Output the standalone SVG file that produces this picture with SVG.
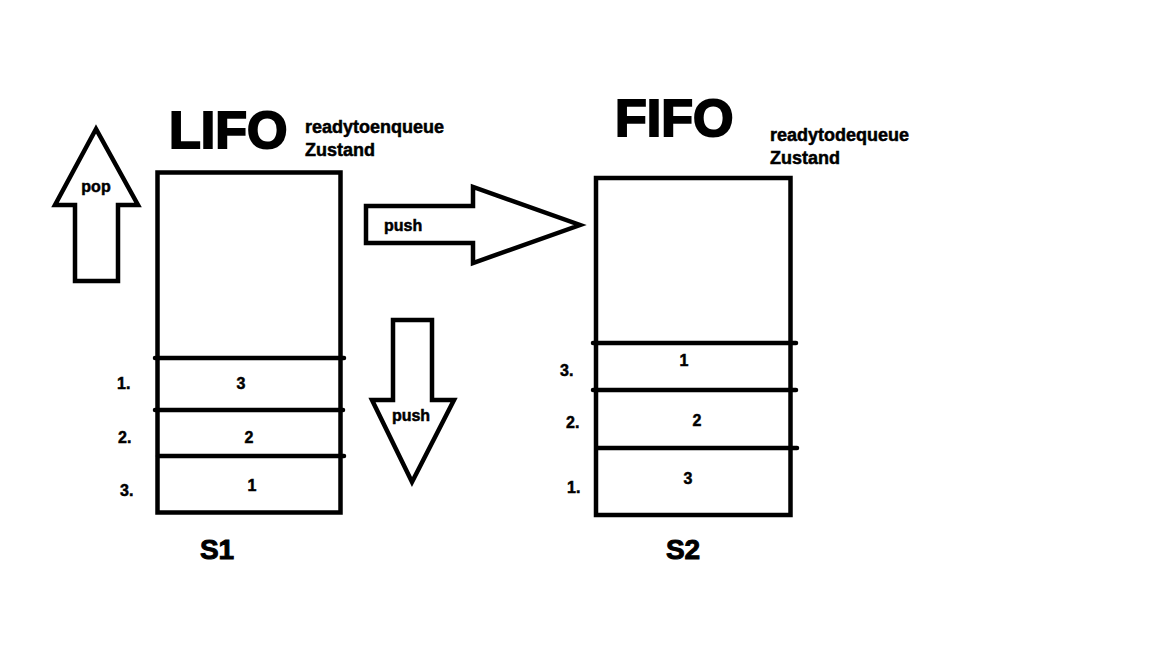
<svg xmlns="http://www.w3.org/2000/svg" width="1152" height="648" viewBox="0 0 1152 648">
<style>
.s{fill:none;stroke:#000;stroke-width:4.5;stroke-linejoin:miter}
.l{stroke:#000;stroke-width:4.5;stroke-linecap:round}
.t{font-family:"Liberation Sans",Arial,sans-serif;font-weight:bold;fill:#000;stroke:#000;stroke-width:0.5}
.big{font-size:52px;stroke-width:2}
.mid{font-size:18px}
.sm{font-size:16px}
.lbl{font-size:28px;stroke-width:1}
</style>
<rect width="1152" height="648" fill="#fff"/>
<g id="s1">
<rect class="s" x="157.5" y="172.5" width="183" height="340"/>
<line class="l" x1="155" y1="358" x2="344" y2="358"/>
<line class="l" x1="155" y1="410" x2="343" y2="410"/>
<line class="l" x1="158" y1="456" x2="344" y2="456"/>
<text class="t sm" x="117" y="389">1.</text>
<text class="t sm" x="241" y="389" text-anchor="middle">3</text>
<text class="t sm" x="118" y="443">2.</text>
<text class="t sm" x="249" y="443" text-anchor="middle">2</text>
<text class="t sm" x="120" y="496">3.</text>
<text class="t sm" x="252" y="491" text-anchor="middle">1</text>
<text class="t lbl" x="217" y="559" text-anchor="middle">S1</text>
</g>
<g id="lifo">
<text class="t big" x="169" y="148">LIFO</text>
<text class="t mid" x="305" y="133">readytoenqueue</text>
<text class="t mid" x="305" y="156">Zustand</text>
</g>
<g id="s2">
<rect class="s" x="596" y="178" width="194.5" height="337"/>
<line class="l" x1="593" y1="343" x2="796" y2="343"/>
<line class="l" x1="593" y1="390" x2="796" y2="390"/>
<line class="l" x1="598" y1="448" x2="797" y2="448"/>
<text class="t sm" x="560" y="376">3.</text>
<text class="t sm" x="684" y="366" text-anchor="middle">1</text>
<text class="t sm" x="566" y="428">2.</text>
<text class="t sm" x="697" y="426" text-anchor="middle">2</text>
<text class="t sm" x="567" y="493">1.</text>
<text class="t sm" x="688" y="484" text-anchor="middle">3</text>
<text class="t lbl" x="683" y="559" text-anchor="middle">S2</text>
</g>
<g id="fifo">
<text class="t big" x="615" y="136">FIFO</text>
<text class="t mid" x="770" y="141">readytodequeue</text>
<text class="t mid" x="770" y="164">Zustand</text>
</g>
<g id="connectors">
<g id="pop-arrow">
<polygon class="s" points="96,129 55,205 75,205 75,281 118,281 118,205 138,205"/>
<text class="t sm" x="96" y="192" text-anchor="middle">pop</text>
</g>
<g id="push-right">
<polygon class="s" points="366,206 473,206 473,187 580,225 473,263 473,243 366,243"/>
<text class="t sm" x="384" y="231">push</text>
</g>
<g id="push-down">
<polygon class="s" points="393,320 432,320 432,400 454,400 412,482 372,400 393,400"/>
<text class="t sm" x="411" y="421" text-anchor="middle">push</text>
</g>
</g>
</svg>
